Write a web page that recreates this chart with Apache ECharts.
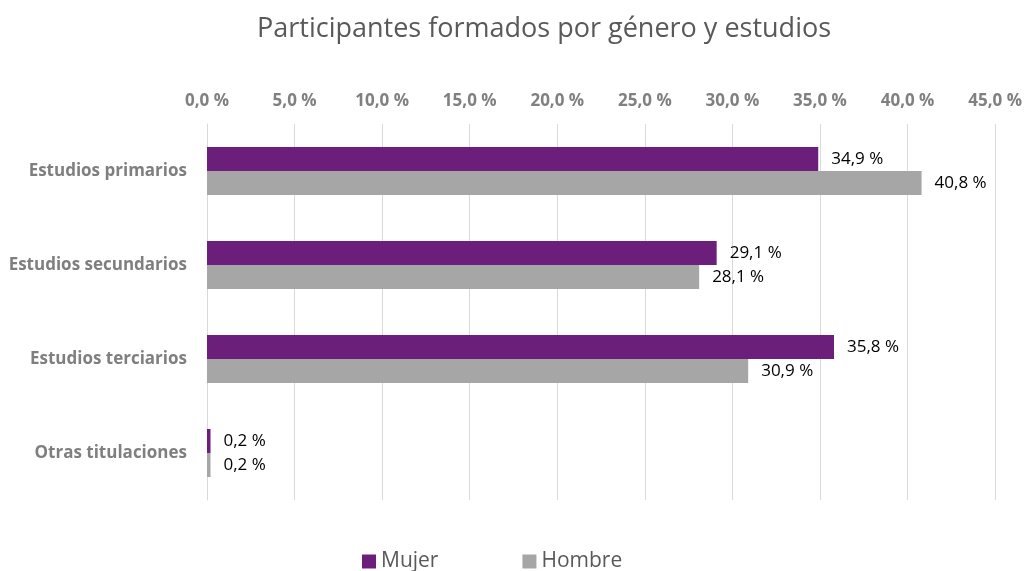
<!DOCTYPE html>
<html><head><meta charset="utf-8">
<script src="https://cdn.jsdelivr.net/npm/echarts@6/dist/echarts.min.js"></script>
<style>html,body{margin:0;padding:0;background:#fff}#c{width:1025px;height:571px}</style>
</head><body><div id="c"></div>
<script>
const categories = ["Estudios primarios", "Estudios secundarios", "Estudios terciarios", "Otras titulaciones"];
const mujer = [34.9, 29.1, 35.8, 0.2];
const hombre = [40.8, 28.1, 30.9, 0.2];
const seriesNames = ["Mujer", "Hombre"];
const fmt = v => v.toFixed(1).replace('.', ',') + ' %';
const font = '"Open Sans", Lato, sans-serif';
const chart = echarts.init(document.getElementById('c'));
chart.setOption({
  animation: false,
  textStyle: {fontFamily: font},
  title: {text: 'Participantes formados por género y estudios', left: 252, top: 11,
    textStyle: {fontFamily: font, fontSize: 27, fontWeight: 'normal', color: '#595959'}},
  legend: {data: seriesNames, bottom: -6, left: 357, itemGap: 84, itemWidth: 14, itemHeight: 14,
    icon: 'rect', textStyle: {fontFamily: font, fontSize: 21, color: '#595959'}},
  grid: {left: 207, right: 29, top: 124, bottom: 71},
  xAxis: {type: 'value', position: 'top', min: 0, max: 45, interval: 5,
    axisLine: {show: false}, axisTick: {show: false},
    splitLine: {lineStyle: {color: '#d9d9d9', width: 1}},
    axisLabel: {formatter: v => fmt(v), fontFamily: font, fontWeight: 'bold', fontSize: 17, color: '#808080', margin: 14}},
  yAxis: {type: 'category', data: categories, inverse: true,
    axisLine: {show: true, lineStyle: {color: '#d9d9d9'}}, axisTick: {show: false},
    axisLabel: {fontFamily: font, fontWeight: 'bold', fontSize: 17, color: '#7f7f7f', margin: 20}},
  series: [
    {name: 'Mujer', type: 'bar', data: mujer, barWidth: 24, barGap: '0%', itemStyle: {color: '#6B1F7A'},
     label: {show: true, position: 'right', distance: 13, formatter: p => fmt(p.value), color: '#000', fontSize: 17, fontFamily: font}},
    {name: 'Hombre', type: 'bar', data: hombre, barWidth: 24, barGap: '0%', itemStyle: {color: '#A6A6A6'},
     label: {show: true, position: 'right', distance: 13, formatter: p => fmt(p.value), color: '#000', fontSize: 17, fontFamily: font}}
  ]
});
</script></body></html>
